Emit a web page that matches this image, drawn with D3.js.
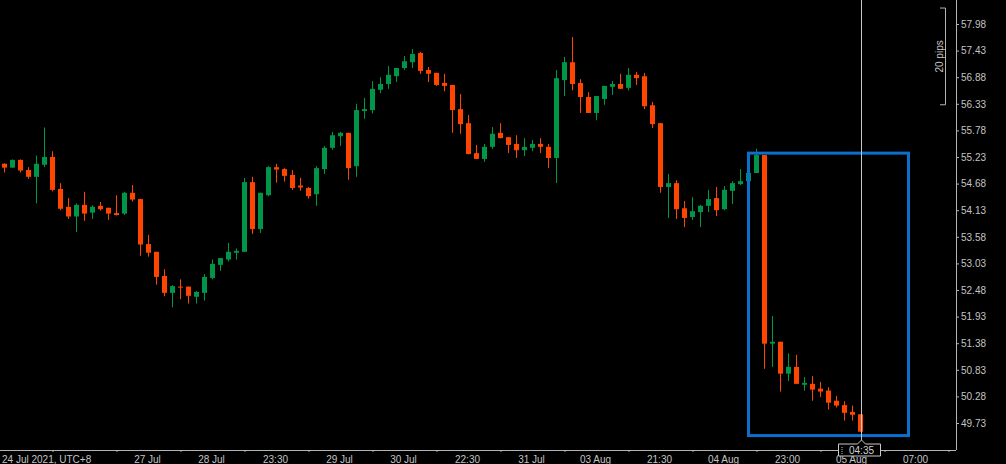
<!DOCTYPE html>
<html>
<head>
<meta charset="utf-8">
<script src="https://cdn.jsdelivr.net/npm/d3@7/dist/d3.min.js"></script>
<style>
  html, body { margin: 0; padding: 0; background: #000; }
  svg { display: block; }
</style>
</head>
<body>
<div id="chart"></div>
<script>
// Candle values, one per 30 min bar.
const opens = [55.09, 55.01, 55.17, 54.96, 54.82, 55.07, 55.23, 54.57, 54.20, 54.00,
  54.24, 54.08, 54.22, 54.18, 54.07, 54.06, 54.49, 54.36, 53.43, 53.27,
  52.77, 52.42, 52.55, 52.55, 52.34, 52.42, 52.73, 53.00, 53.11, 53.25,
  53.27, 54.71, 53.74, 54.44, 55.02, 54.98, 54.86, 54.64, 54.59, 54.46,
  54.98, 55.42, 55.66, 55.73, 55.04, 56.18, 56.20, 56.62, 56.74, 56.90,
  57.07, 57.19, 57.38, 57.03, 56.97, 56.76, 56.72, 56.22, 55.93, 55.31,
  55.19, 55.44, 55.73, 55.64, 55.50, 55.37, 55.42, 55.50, 55.44, 55.21,
  56.82, 57.19, 56.76, 56.47, 56.14, 56.43, 56.68, 56.74, 56.66, 56.93,
  56.90, 56.30, 55.93, 54.61, 54.69, 54.17, 53.99, 54.09, 54.22, 54.38,
  54.15, 54.53, 54.67, 54.73, 54.90, 55.27, 51.37, 51.41, 50.75, 50.89,
  50.52, 50.54, 50.44, 50.40, 50.19, 50.10, 49.96, 49.91];
const highs = [55.10, 55.18, 55.18, 55.02, 55.26, 55.84, 55.35, 54.69, 54.38, 54.27,
  54.51, 54.23, 54.30, 54.18, 54.44, 54.51, 54.65, 54.36, 53.62, 53.27,
  52.91, 52.58, 52.70, 52.55, 52.46, 52.81, 53.11, 53.14, 53.45, 53.34,
  54.80, 54.82, 54.49, 55.04, 55.09, 55.00, 54.96, 54.80, 54.61, 55.04,
  55.46, 55.75, 55.75, 55.73, 56.33, 56.45, 56.80, 56.88, 57.11, 57.07,
  57.32, 57.46, 57.40, 57.09, 56.97, 56.95, 56.72, 56.53, 56.10, 55.48,
  55.50, 55.85, 55.93, 55.64, 55.68, 55.62, 55.58, 55.62, 55.50, 57.03,
  57.30, 57.71, 56.84, 56.57, 56.49, 56.70, 56.80, 56.95, 57.07, 56.99,
  56.97, 56.37, 55.93, 54.88, 54.75, 54.32, 54.40, 54.24, 54.55, 54.61,
  54.63, 54.73, 54.98, 54.98, 55.40, 55.27, 51.94, 51.41, 51.17, 51.14,
  50.68, 50.70, 50.58, 50.47, 50.29, 50.18, 50.09, 49.91];
const lows = [54.91, 55.01, 54.91, 54.78, 54.27, 55.02, 54.52, 54.13, 53.95, 53.68,
  53.91, 53.95, 54.12, 53.93, 54.02, 54.03, 54.31, 53.19, 53.17, 52.59,
  52.35, 52.12, 52.29, 52.20, 52.20, 52.26, 52.70, 52.88, 53.07, 53.11,
  53.27, 53.64, 53.66, 54.42, 54.70, 54.72, 54.55, 54.53, 54.37, 54.22,
  54.88, 55.38, 55.46, 54.76, 54.82, 56.02, 56.13, 56.55, 56.64, 56.78,
  57.03, 57.07, 56.95, 56.78, 56.70, 56.59, 55.73, 55.71, 55.29, 55.19,
  55.13, 55.40, 55.62, 55.31, 55.21, 55.25, 55.35, 55.31, 55.00, 54.69,
  56.49, 56.61, 56.14, 56.14, 55.99, 56.31, 56.51, 56.64, 56.61, 56.72,
  56.22, 55.83, 54.49, 53.97, 53.95, 53.78, 53.93, 53.78, 54.09, 54.01,
  54.13, 54.26, 54.65, 54.73, 54.90, 50.85, 50.89, 50.38, 50.60, 50.54,
  50.40, 50.19, 50.27, 50.01, 50.05, 49.78, 49.78, 49.55];
const closes = [55.01, 55.17, 54.95, 54.82, 55.09, 55.23, 54.55, 54.16, 54.00, 54.24,
  54.06, 54.20, 54.15, 54.06, 54.03, 54.49, 54.35, 53.42, 53.25, 52.75,
  52.42, 52.56, 52.53, 52.36, 52.44, 52.75, 53.02, 53.14, 53.27, 53.29,
  54.71, 53.74, 54.49, 55.02, 54.97, 54.84, 54.59, 54.60, 54.42, 55.00,
  55.42, 55.68, 55.73, 55.00, 56.20, 56.22, 56.64, 56.74, 56.93, 57.07,
  57.21, 57.36, 57.01, 56.95, 56.72, 56.70, 56.20, 55.91, 55.29, 55.19,
  55.44, 55.71, 55.62, 55.48, 55.37, 55.44, 55.50, 55.44, 55.21, 56.86,
  57.19, 56.74, 56.47, 56.14, 56.49, 56.70, 56.74, 56.64, 56.93, 56.86,
  56.28, 55.91, 54.61, 54.69, 54.15, 53.97, 54.11, 54.22, 54.36, 54.13,
  54.55, 54.69, 54.73, 54.90, 55.27, 51.37, 51.41, 50.75, 50.89, 50.54,
  50.56, 50.42, 50.38, 50.15, 50.09, 49.94, 49.90, 49.55];

// Price axis ticks.
const priceTicks = [57.98, 57.43, 56.88, 56.33, 55.78, 55.23, 54.68, 54.13,
  53.58, 53.03, 52.48, 51.93, 51.38, 50.83, 50.28, 49.73];

// Time axis: tick slots (bar index) and the labels that sit after them.
const tickSlots = [6, 14, 22, 30, 38, 46, 54, 62, 70, 78, 86, 94, 102, 110, 118];
const timeLabels = ["27 Jul", "28 Jul", "23:30", "29 Jul", "30 Jul", "22:30", "31 Jul",
  "03 Aug", "21:30", "04 Aug", "23:00", "05 Aug", "07:00"];
const firstLabel = "24 Jul 2021, UTC+8";
const cursorLabel = "04:35";

// Drawn annotations: the blue box and the 20 pips ruler.
const boxSlots = [93, 113];
const boxPrices = [55.31, 49.47];
const rulerLow = 56.31, rulerPips = 20, pipSize = 0.1;

let width = 1006, height = 464,
    plotRight = 956, plotBottom = 450;

const upColor = "#00964a", downColor = "#ff4500", boxColor = "#0b6fce",
      lineColor = "#b4b4b4", textColor = "#c4c4c4";
const font = "'Liberation Sans', Arial, sans-serif";

let svg = d3.select("#chart")
.append("svg")
.attr("width", width)
.attr("height", height)
.style("background", "#000");

let x = d3.scaleLinear()
.domain([0, opens.length - 1])
.range([4.5, 860.5]);

let y = d3.scaleLinear()
.domain([49.73, 57.98])
.range([423, 24]);

// Candles.
let candles = svg.append("g")
.selectAll("g")
.data(d3.range(opens.length))
.enter()
.append("g")
.attr("fill", i => closes[i] >= opens[i] ? upColor : downColor);

candles.append("rect")
.attr("x", i => x(i) - 0.5)
.attr("width", 1)
.attr("y", i => y(highs[i]))
.attr("height", i => Math.max(1, y(lows[i]) - y(highs[i])));

candles.append("rect")
.attr("x", i => x(i) - 2.5)
.attr("width", 5)
.attr("y", i => y(Math.max(opens[i], closes[i])))
.attr("height", i => Math.max(1, Math.abs(y(opens[i]) - y(closes[i]))));

// Blue box annotation.
svg.append("rect")
.attr("x", x(boxSlots[0]))
.attr("y", y(boxPrices[0]))
.attr("width", x(boxSlots[1]) - x(boxSlots[0]))
.attr("height", y(boxPrices[1]) - y(boxPrices[0]))
.attr("fill", "none")
.attr("stroke", boxColor)
.attr("stroke-width", 3);

// Crosshair on the last bar.
let cursorX = Math.round(x(opens.length - 1)) + 0.5;
svg.append("line")
.attr("x1", cursorX).attr("x2", cursorX)
.attr("y1", 0).attr("y2", 440)
.attr("stroke", "#c8c8c8")
.attr("stroke-width", 1);

// Right price axis.
let yAxis = svg.append("g")
.attr("transform", "translate(" + plotRight + ",0)")
.call(d3.axisRight(y).tickValues(priceTicks).tickSize(3).tickPadding(2).tickFormat(d3.format(".2f")));
yAxis.select(".domain").remove();
yAxis.selectAll(".tick line").attr("stroke", lineColor);
yAxis.selectAll(".tick text")
.attr("fill", textColor)
.style("font-family", font)
.style("font-size", "10px");

svg.append("line")
.attr("x1", plotRight + 0.5).attr("x2", plotRight + 0.5)
.attr("y1", 0).attr("y2", plotBottom)
.attr("stroke", lineColor);

// Bottom time axis.
let xAxis = svg.append("g")
.attr("transform", "translate(0," + plotBottom + ")")
.call(d3.axisBottom(x).tickValues(tickSlots).tickSize(2).tickFormat(""));
xAxis.select(".domain").remove();
xAxis.selectAll(".tick line").attr("stroke", lineColor);

svg.append("line")
.attr("x1", 0).attr("x2", plotRight)
.attr("y1", plotBottom + 0.5).attr("y2", plotBottom + 0.5)
.attr("stroke", lineColor);

svg.append("text")
.attr("x", 2)
.attr("y", 463)
.attr("fill", textColor)
.style("font-family", font)
.style("font-size", "10px")
.text(firstLabel);

svg.append("g")
.selectAll("text")
.data(timeLabels)
.enter()
.append("text")
.attr("x", (d, j) => x(tickSlots[j + 1]) + 31)
.attr("y", 463)
.attr("text-anchor", "middle")
.attr("fill", textColor)
.style("font-family", font)
.style("font-size", "10px")
.text(d => d);

// Cursor time box.
let boxW = 42, boxTop = 444, boxH = 12;
svg.append("path")
.attr("d", "M" + (cursorX - boxW / 2 - 2) + "," + boxTop +
  " H" + (cursorX - 4) + " L" + cursorX + "," + (boxTop - 4) +
  " L" + (cursorX + 4) + "," + boxTop +
  " H" + (cursorX + boxW / 2 - 2) +
  " V" + (boxTop + boxH) + " H" + (cursorX - boxW / 2 - 2) + " Z")
.attr("fill", "#000")
.attr("stroke", "#c8c8c8");

svg.append("g")
.selectAll("rect")
.data([0, 1, 2, 3])
.enter()
.append("rect")
.attr("x", d => cursorX - 20)
.attr("y", d => boxTop + 3 + d * 2)
.attr("width", 1).attr("height", 1)
.attr("fill", "#c8c8c8");

svg.append("text")
.attr("x", cursorX)
.attr("y", boxTop + 10)
.attr("text-anchor", "middle")
.attr("fill", "#d0d0d0")
.style("font-family", font)
.style("font-size", "10px")
.text(cursorLabel);

// 20 pips ruler.
let rulerTop = y(rulerLow + rulerPips * pipSize), rulerBottom = y(rulerLow);
svg.append("path")
.attr("d", "M940," + rulerTop + " H945.5 V" + rulerBottom + " H940")
.attr("fill", "none")
.attr("stroke", lineColor);

svg.append("text")
.attr("transform", "translate(943," + (rulerTop + rulerBottom) / 2 + ") rotate(-90)")
.attr("text-anchor", "middle")
.attr("fill", textColor)
.style("font-family", font)
.style("font-size", "10px")
.text(rulerPips + " pips");
</script>
</body>
</html>
